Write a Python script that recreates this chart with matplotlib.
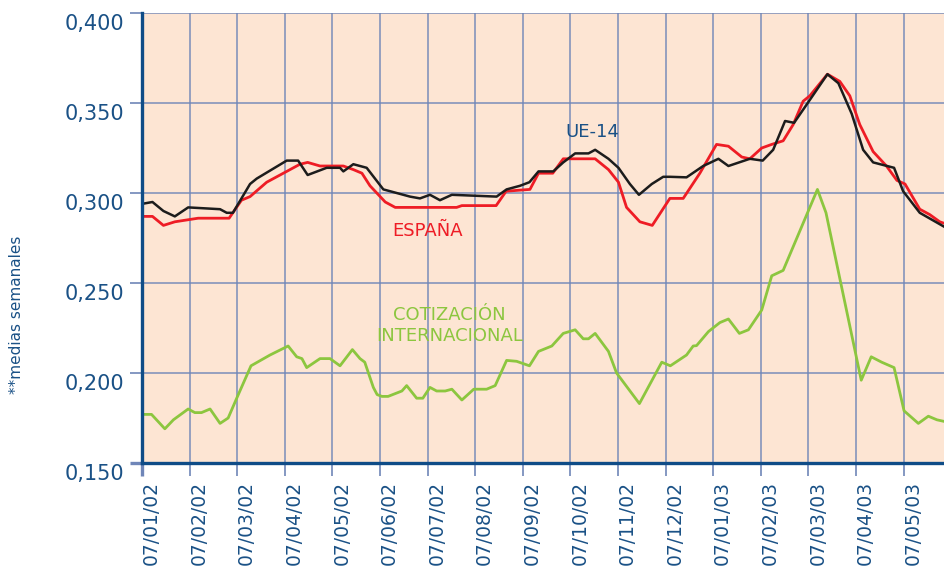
import matplotlib
matplotlib.use("Agg")
import matplotlib.pyplot as plt
from matplotlib.transforms import ScaledTranslation

# x positions are in months since 07/01/02 (weekly averages)
month_labels = ["07/01/02", "07/02/02", "07/03/02", "07/04/02", "07/05/02", "07/06/02",
                "07/07/02", "07/08/02", "07/09/02", "07/10/02", "07/11/02", "07/12/02",
                "07/01/03", "07/02/03", "07/03/03", "07/04/03", "07/05/03"]
yticks = [0.150, 0.200, 0.250, 0.300, 0.350, 0.400]

ue14_x = [0.01, 0.22, 0.45, 0.69, 0.97, 1.64, 1.78, 1.91, 2.27, 2.41, 3.04, 3.28, 3.48, 3.88,
          4.16, 4.23, 4.44, 4.72, 5.07, 5.63, 5.84, 6.05, 6.26, 6.51, 7.45, 7.66, 7.94, 8.14,
          8.33, 8.64, 8.85, 9.10, 9.38, 9.52, 9.80, 10.01, 10.25, 10.44, 10.71, 10.95, 11.09,
          11.44, 11.79, 12.11, 12.32, 12.77, 13.04, 13.26, 13.51, 13.70, 13.96, 14.40, 14.63,
          14.91, 15.15, 15.36, 15.80, 15.99, 16.34, 16.87]
ue14_y = [0.294, 0.295, 0.290, 0.287, 0.292, 0.291, 0.289, 0.289, 0.305, 0.308, 0.318, 0.318,
          0.310, 0.314, 0.314, 0.312, 0.316, 0.314, 0.302, 0.298, 0.297, 0.299, 0.296, 0.299,
          0.298, 0.302, 0.304, 0.306, 0.312, 0.312, 0.317, 0.322, 0.322, 0.324, 0.319, 0.314,
          0.305, 0.299, 0.305, 0.309, 0.309, 0.3087, 0.315, 0.319, 0.315, 0.319, 0.318, 0.324,
          0.340, 0.339, 0.349, 0.366, 0.361, 0.344, 0.324, 0.317, 0.314, 0.301, 0.289, 0.281]

espana_x = [0.01, 0.22, 0.45, 0.69, 1.18, 1.83, 2.09, 2.27, 2.62, 2.90, 3.32, 3.48, 3.74, 4.23,
            4.44, 4.62, 4.79, 5.11, 5.32, 6.61, 6.72, 7.44, 7.65, 8.15, 8.33, 8.63, 8.85, 9.52,
            9.80, 10.01, 10.18, 10.46, 10.72, 11.09, 11.37, 11.72, 12.07, 12.32, 12.60, 12.77,
            13.02, 13.23, 13.47, 13.68, 13.89, 14.03, 14.40, 14.66, 14.87, 15.08, 15.36, 15.64,
            15.86, 16.03, 16.34, 16.55, 16.76, 16.87]
espana_y = [0.287, 0.287, 0.282, 0.284, 0.286, 0.286, 0.296, 0.298, 0.306, 0.310, 0.316, 0.317,
            0.315, 0.315, 0.313, 0.311, 0.304, 0.295, 0.292, 0.292, 0.293, 0.293, 0.301, 0.302,
            0.311, 0.311, 0.319, 0.319, 0.313, 0.306, 0.292, 0.284, 0.282, 0.297, 0.297, 0.311,
            0.327, 0.326, 0.320, 0.319, 0.325, 0.327, 0.329, 0.338, 0.351, 0.354, 0.366, 0.362,
            0.354, 0.338, 0.323, 0.315, 0.307, 0.305, 0.291, 0.288, 0.284, 0.283]

cotiz_x = [0.01, 0.20, 0.48, 0.66, 0.97, 1.11, 1.25, 1.43, 1.64, 1.81, 1.99, 2.29, 2.69, 3.07,
           3.25, 3.36, 3.46, 3.74, 3.95, 4.16, 4.42, 4.58, 4.68, 4.86, 4.94, 5.04, 5.17, 5.46,
           5.56, 5.77, 5.90, 6.05, 6.19, 6.37, 6.51, 6.72, 6.97, 7.24, 7.42, 7.66, 7.87, 8.14,
           8.33, 8.61, 8.85, 9.10, 9.27, 9.38, 9.52, 9.80, 9.97, 10.45, 10.92, 11.10, 11.44,
           11.58, 11.65, 11.90, 12.14, 12.32, 12.55, 12.74, 13.02, 13.23, 13.47, 14.19, 14.37,
           15.11, 15.32, 15.54, 15.80, 16.01, 16.31, 16.52, 16.70, 16.87]
cotiz_y = [0.177, 0.177, 0.169, 0.174, 0.180, 0.178, 0.178, 0.180, 0.172, 0.175, 0.186, 0.204,
           0.210, 0.215, 0.209, 0.208, 0.203, 0.208, 0.208, 0.204, 0.213, 0.208, 0.206, 0.192,
           0.188, 0.187, 0.187, 0.190, 0.193, 0.186, 0.186, 0.192, 0.190, 0.190, 0.191, 0.185,
           0.191, 0.191, 0.193, 0.207, 0.2065, 0.204, 0.212, 0.215, 0.222, 0.224, 0.219, 0.219,
           0.222, 0.212, 0.200, 0.183, 0.206, 0.204, 0.210, 0.215, 0.2152, 0.223, 0.228, 0.230,
           0.222, 0.224, 0.235, 0.254, 0.257, 0.302, 0.289, 0.196, 0.209, 0.206, 0.203, 0.179,
           0.172, 0.176, 0.174, 0.173]

DARK_BLUE = "#0f4c87"
TEXT_BLUE = "#1a5186"
GRID = "#6f86b8"
BG = "#fde5d3"

fig = plt.figure(figsize=(9.45, 5.67), dpi=100)
ax = fig.add_axes([142 / 945, 104 / 567, 1 - 142 / 945, (463 - 13) / 567])
ax.set_facecolor(BG)

ax.plot(cotiz_x, cotiz_y, color="#8cc63f", lw=2.0, zorder=3)
ax.plot(espana_x, espana_y, color="#ee1c25", lw=2.0, zorder=4)
ax.plot(ue14_x, ue14_y, color="#1c1c1c", lw=1.8, zorder=5)

ax.set_xlim(0, 16.87)
ax.set_ylim(0.15, 0.40)
ax.set_xticks(range(len(month_labels)))
ax.set_xticklabels(month_labels, rotation=90, ha="left", va="top",
                   fontsize=13.5, color=TEXT_BLUE)
ax.set_yticks(yticks)
ax.set_yticklabels([f"{v:.3f}".replace(".", ",") for v in yticks],
                   fontsize=15, color=TEXT_BLUE)

ax.grid(True, color=GRID, lw=1.2, alpha=0.85)
ax.set_axisbelow(True)
ax.tick_params(axis="both", length=9, width=1.2, color=GRID, pad=4)

for s in ["top", "right"]:
    ax.spines[s].set_visible(False)
for s in ["left", "bottom"]:
    ax.spines[s].set_color(DARK_BLUE)
    ax.spines[s].set_linewidth(2.4)
    ax.spines[s].set_zorder(6)

# first ticks continue the spines
for t in (ax.xaxis.get_major_ticks()[0], ax.yaxis.get_major_ticks()[0]):
    t.tick1line.set_color(DARK_BLUE)
    t.tick1line.set_markeredgewidth(2.4)

# y tick labels sit slightly below their grid lines
off = ScaledTranslation(0, -0.085, fig.dpi_scale_trans)
for lab in ax.get_yticklabels():
    lab.set_transform(lab.get_transform() + off)

ax.text(9.47, 0.334, "UE-14", color=TEXT_BLUE, fontsize=13, ha="center", va="center")
ax.text(6.0, 0.279, "ESPAÑA", color="#ee1c25", fontsize=13, ha="center", va="center")
ax.text(6.46, 0.2264, "COTIZACIÓN\nINTERNACIONAL", color="#8cc63f", fontsize=13,
        ha="center", va="center", linespacing=1.15)

fig.text(17 / 945, 1 - 315 / 567, "**medias semanales", rotation=90, ha="center",
         va="center", fontsize=11, color=TEXT_BLUE)

fig.savefig("out.png", dpi=100)
